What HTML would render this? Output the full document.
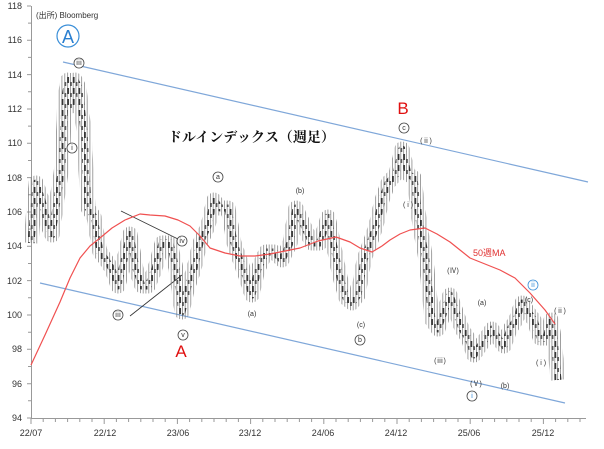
<!DOCTYPE html>
<html><head><meta charset="utf-8"><style>
html,body{margin:0;padding:0;background:#fff;}
svg{display:block;font-family:"Liberation Sans","Noto Sans CJK JP",sans-serif;}
</style></head><body>
<svg width="604" height="449" viewBox="0 0 604 449" xmlns="http://www.w3.org/2000/svg">
<defs>
<pattern id="wick" patternUnits="userSpaceOnUse" x="0" y="0" width="2.8" height="10"><rect x="0" y="0" width="0.7" height="10" fill="#777"/></pattern>
<pattern id="body" patternUnits="userSpaceOnUse" x="0" y="0" width="5.6" height="11"><rect x="0" y="0" width="1.8" height="6" fill="#333"/><rect x="2.8" y="5" width="1.8" height="4" fill="#555"/></pattern>
</defs>
<rect width="604" height="449" fill="#fff"/>
<g stroke="#999" stroke-width="1" fill="none">
<line x1="31.5" y1="6" x2="31.5" y2="418"/>
<line x1="31" y1="418.5" x2="586" y2="418.5"/>
<path d="M27 418H31M28 400.8H31M27 383.7H31M28 366.5H31M27 349.3H31M28 332.2H31M27 315H31M28 297.8H31M27 280.6H31M28 263.5H31M27 246.3H31M28 229.1H31M27 212H31M28 194.8H31M27 177.6H31M28 160.5H31M27 143.3H31M28 126.1H31M27 109H31M28 91.8H31M27 74.6H31M28 57.4H31M27 40.3H31M28 23.1H31M27 6H31"/>
<path d="M31 418V424M43.2 418V422M55.4 418V422M67.6 418V422M79.8 418V422M92 418V422M104.2 418V424M116.4 418V422M128.6 418V422M140.8 418V422M153 418V422M165.2 418V422M177.4 418V424M189.6 418V422M201.8 418V422M214 418V422M226.2 418V422M238.4 418V422M250.6 418V424M262.8 418V422M275 418V422M287.2 418V422M299.4 418V422M311.6 418V422M323.8 418V424M336 418V422M348.2 418V422M360.4 418V422M372.6 418V422M384.8 418V422M397 418V424M409.2 418V422M421.4 418V422M433.6 418V422M445.8 418V422M458 418V422M470.2 418V424M482.4 418V422M494.6 418V422M506.8 418V422M519 418V422M531.2 418V422M543.4 418V424M555.6 418V422M567.8 418V422M580 418V422"/>
</g>
<g font-size="9" fill="#333" text-anchor="end">
<text x="22" y="9">118</text><text x="22" y="43">116</text><text x="22" y="78">114</text>
<text x="22" y="112">112</text><text x="22" y="146">110</text><text x="22" y="181">108</text>
<text x="22" y="215">106</text><text x="22" y="249">104</text><text x="22" y="284">102</text>
<text x="22" y="318">100</text><text x="22" y="352">98</text><text x="22" y="387">96</text>
<text x="22" y="421">94</text>
</g>
<g font-size="9" fill="#333" text-anchor="middle">
<text x="31" y="436">22/07</text><text x="105" y="436">22/12</text><text x="178" y="436">23/06</text>
<text x="250" y="436">23/12</text><text x="323" y="436">24/06</text><text x="396" y="436">24/12</text>
<text x="469" y="436">25/06</text><text x="543" y="436">25/12</text>
</g>
<text x="36" y="18" font-size="8" fill="#333">(出所) Bloomberg</text>
<line x1="63" y1="62" x2="588" y2="182" stroke="#7fa7d9" stroke-width="1.2"/>
<line x1="40" y1="283" x2="565" y2="403" stroke="#7fa7d9" stroke-width="1.2"/>
<line x1="121" y1="211" x2="180" y2="240" stroke="#333" stroke-width="0.8"/>
<line x1="130" y1="316" x2="182" y2="275" stroke="#333" stroke-width="0.8"/>
<polyline fill="none" stroke="url(#wick)" stroke-width="15" stroke-linejoin="round" points="31,243 36,183 42,200 48,226 52,235 57,200 62,166 65,97 68,80 71,106 75,80 79,88 84,131 88,208 94,217 100,252 106,260 112,269 118,286 124,260 130,234 136,269 142,286 148,286 155,269 162,243 170,243 176,269 182,312 188,286 194,269 200,243 208,226 214,200 220,208 228,208 234,243 240,260 246,277 252,295 258,269 266,252 274,252 282,260 290,243 296,208 304,226 312,243 320,243 328,217 335,252 340,277 346,298 352,303 358,295 364,260 370,243 376,226 382,200 388,183 396,174 402,149 408,174 414,178 420,226 426,260 432,320 438,329 444,312 450,295 456,312 462,329 468,338 474,355 480,346 486,338 492,329 498,338 504,346 510,329 516,320 522,303 528,312 534,320 540,338 546,338 551,320 554,338 558,380"/>
<polyline fill="none" stroke="url(#body)" stroke-width="7" stroke-linejoin="round" points="31,243 36,183 42,200 48,226 52,235 57,200 62,166 65,97 68,80 71,106 75,80 79,88 84,131 88,208 94,217 100,252 106,260 112,269 118,286 124,260 130,234 136,269 142,286 148,286 155,269 162,243 170,243 176,269 182,312 188,286 194,269 200,243 208,226 214,200 220,208 228,208 234,243 240,260 246,277 252,295 258,269 266,252 274,252 282,260 290,243 296,208 304,226 312,243 320,243 328,217 335,252 340,277 346,298 352,303 358,295 364,260 370,243 376,226 382,200 388,183 396,174 402,149 408,174 414,178 420,226 426,260 432,320 438,329 444,312 450,295 456,312 462,329 468,338 474,355 480,346 486,338 492,329 498,338 504,346 510,329 516,320 522,303 528,312 534,320 540,338 546,338 551,320 554,338 558,380"/>
<polyline fill="none" stroke="#f05050" stroke-width="1.2" stroke-linejoin="round" points="31,365 45,335 60,302 70,278 80,258 90,246 100,238 112,228 125,220 140,214 150,215 165,216 178,220 190,226 200,236 210,248 225,253 240,256 255,256 270,254 285,251 300,248 318,241 336,237 350,242 360,248 372,252 382,246 390,240 400,234 410,230 425,228 437,234 450,242 460,250 470,258 485,264 500,270 515,278 530,293 545,310 555,324"/>
<text x="473" y="256" font-size="9" fill="#e03030">50週MA</text>
<text x="168" y="142" font-size="14" fill="#111" font-family="'Noto Serif CJK SC','Liberation Serif',serif" font-weight="bold">ドルインデックス（週足）</text>
<circle cx="68" cy="36" r="11" fill="none" stroke="#3b8fd8" stroke-width="1.2"/>
<text x="68" y="43" font-size="18" fill="#2a7fd0" text-anchor="middle">A</text>
<text x="403" y="114" font-size="17" fill="#e01010" text-anchor="middle">B</text>
<text x="181" y="357" font-size="17" fill="#e01010" text-anchor="middle">A</text>
<g fill="#fff" stroke="#444" stroke-width="0.8">
<circle cx="79" cy="63" r="5"/><circle cx="72" cy="148" r="5"/><circle cx="218" cy="177" r="5"/>
<circle cx="118" cy="315" r="5"/><circle cx="182" cy="241" r="5"/><circle cx="183" cy="335" r="5"/>
<circle cx="404" cy="128" r="5"/><circle cx="360" cy="340" r="5"/><circle cx="472" cy="396" r="5"/>
</g>
<circle cx="533" cy="285" r="5" fill="#fff" stroke="#3b8fd8" stroke-width="0.8"/>
<g font-size="7" fill="#333" text-anchor="middle">
<text x="79" y="65">ⅲ</text><text x="72" y="150">ⅰ</text><text x="218" y="179">a</text>
<text x="118" y="317">ⅲ</text><text x="182" y="243">ⅳ</text><text x="183" y="337">ⅴ</text>
<text x="404" y="130">c</text><text x="360" y="342">b</text><text x="472" y="398" fill="#3b8fd8">ⅰ</text>
<text x="533" y="287" fill="#3b8fd8">ⅱ</text>
<text x="300" y="193">(b)</text><text x="252" y="316">(a)</text><text x="361" y="327">(c)</text>
<text x="426" y="143">(ⅱ)</text><text x="408" y="207">( i )</text><text x="453" y="273">(Ⅳ)</text>
<text x="440" y="363">(ⅲ)</text><text x="476" y="386">(Ⅴ)</text><text x="482" y="305">(a)</text>
<text x="505" y="388">(b)</text><text x="529" y="302">(c)</text><text x="560" y="313">(ⅱ)</text>
<text x="541" y="365">( i )</text>
</g>
</svg>
</body></html>
